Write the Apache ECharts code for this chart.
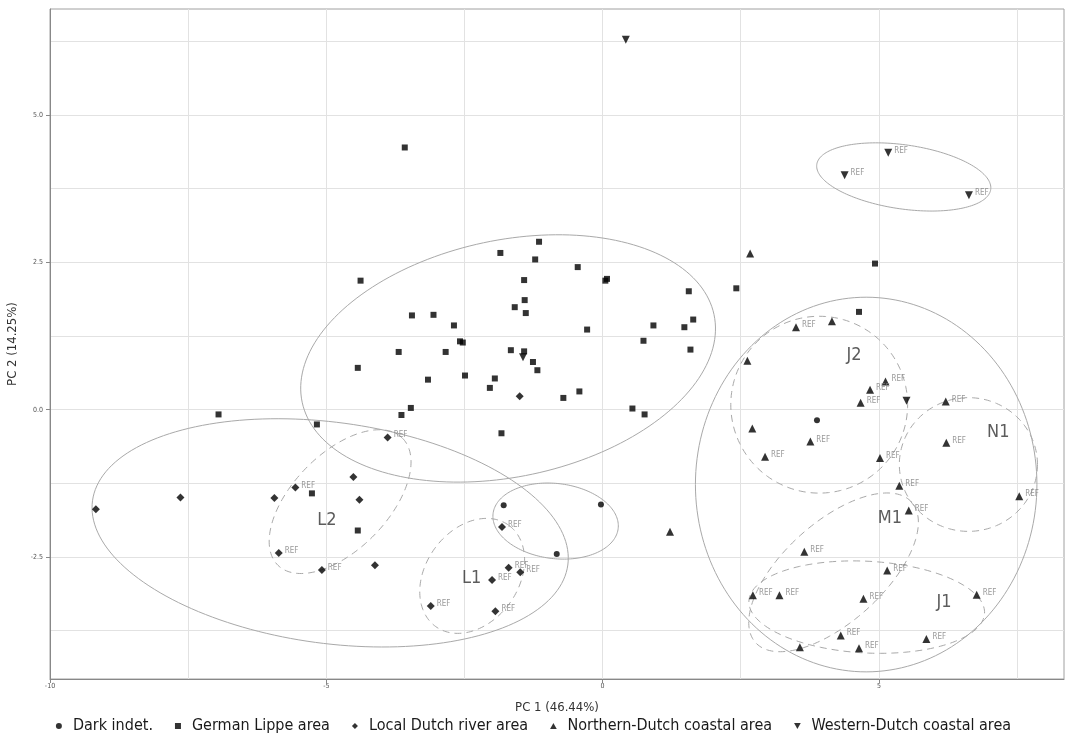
<!DOCTYPE html>
<html><head><meta charset="utf-8">
<script src="https://cdn.jsdelivr.net/npm/echarts@6/dist/echarts.min.js"></script>
<style>html,body{margin:0;padding:0;background:#fff}#c{width:1067px;height:742px}</style>
</head><body><div id="c"></div>
<script>
const FONT = "'Liberation Sans Narrow','DejaVu Sans Condensed','Roboto Condensed',sans-serif";

// axis ticks / grid
const xTickLabels = [-10, -5, 0, 5];
const xGridValues = [-10, -7.5, -5, -2.5, 0, 2.5, 5, 7.5];
const yTickLabels = [-2.5, 0, 2.5, 5];
const yGridValues = [-3.75, -2.5, -1.25, 0, 1.25, 2.5, 3.75, 5, 6.25];
const xRange = [-10, 8.35];
const yRange = [-4.57, 6.8];

const seriesNames = ['Dark indet.', 'German Lippe area', 'Local Dutch river area',
  'Northern-Dutch coastal area', 'Western-Dutch coastal area'];

// [PC1, PC2, isReference]
const darkIndet = [[-1.79,-1.62,0],[-0.03,-1.61,0],[-0.83,-2.45,0],[3.88,-0.18,0]];
const germanLippe = [[-6.95,-0.08,0],[-5.17,-0.25,0],[-5.26,-1.42,0],[-4.43,-2.05,0],[-4.38,2.19,0],
  [-4.43,0.71,0],[-3.58,4.45,0],[-3.45,1.60,0],[-3.06,1.61,0],[-2.69,1.43,0],[-2.58,1.16,0],
  [-2.53,1.14,0],[-3.69,0.98,0],[-2.84,0.98,0],[-3.16,0.51,0],[-2.49,0.58,0],[-1.95,0.53,0],
  [-2.04,0.37,0],[-3.47,0.03,0],[-3.64,-0.09,0],[-1.83,-0.40,0],[-1.85,2.66,0],[-1.15,2.85,0],
  [-1.22,2.55,0],[-0.45,2.42,0],[0.08,2.22,0],[0.05,2.19,0],[-1.42,2.20,0],[1.56,2.01,0],
  [-1.41,1.86,0],[-1.59,1.74,0],[-1.39,1.64,0],[1.64,1.53,0],[0.92,1.43,0],[1.48,1.40,0],
  [-0.28,1.36,0],[0.74,1.17,0],[1.59,1.02,0],[-1.66,1.01,0],[-1.42,0.99,0],[-1.26,0.81,0],
  [-1.18,0.67,0],[-0.71,0.20,0],[-0.42,0.31,0],[0.54,0.02,0],[0.76,-0.08,0],[4.93,2.48,0],
  [2.42,2.06,0],[4.64,1.66,0]];
const localDutch = [[-9.17,-1.69,0],[-7.64,-1.49,0],[-5.94,-1.50,0],[-5.56,-1.32,1],[-4.51,-1.14,0],
  [-4.40,-1.53,0],[-5.86,-2.43,1],[-5.08,-2.72,1],[-4.12,-2.64,0],[-3.89,-0.47,1],[-1.50,0.23,0],
  [-1.82,-1.99,1],[-1.70,-2.68,1],[-1.49,-2.76,1],[-2.00,-2.89,1],[-3.11,-3.33,1],[-1.94,-3.42,1]];
const northernDutch = [[2.67,2.65,0],[3.50,1.40,1],[4.15,1.50,0],[2.62,0.83,0],[5.12,0.48,1],
  [4.84,0.34,1],[4.67,0.12,1],[6.21,0.14,1],[2.71,-0.32,0],[3.76,-0.54,1],[2.94,-0.80,1],
  [6.22,-0.56,1],[5.02,-0.82,1],[5.37,-1.29,1],[7.54,-1.47,1],[5.54,-1.71,1],[3.65,-2.41,1],
  [5.15,-2.73,1],[2.72,-3.15,1],[3.20,-3.15,1],[4.72,-3.21,1],[6.77,-3.14,1],[4.31,-3.83,1],
  [5.86,-3.89,1],[3.57,-4.03,0],[4.64,-4.05,1],[1.22,-2.07,0]];
const westernDutch = [[0.42,6.28,0],[5.17,4.36,1],[4.38,3.98,1],[6.63,3.64,1],[-1.44,0.89,0],[5.50,0.15,0]];

// confidence ellipses: [centerX, centerY, semiMajor, semiMinor, angleDeg, isSubgroup]
const ellipses = [
  [-1.71, 0.87, 3.81, 2.14, 12.0, 0],
  [-4.93, -2.09, 4.34, 2.00, -7.7, 0],
  [-0.85, -1.89, 1.14, 0.68, -6.8, 0],
  [5.45, 3.95, 1.59, 0.58, -8.2, 0],
  [4.77, -1.27, 3.09, 3.39, 0, 0],
  [-4.75, -1.56, 1.61, 0.865, 45.7, 1],
  [-2.36, -2.82, 1.13, 0.84, 54.3, 1],
  [3.92, 0.085, 1.60, 1.60, 0, 1],
  [6.62, -0.93, 1.25, 1.21, 0, 1],
  [4.18, -2.76, 1.90, 0.90, 42, 1],
  [4.78, -3.35, 2.135, 0.83, -3, 1]
];
const groupLabels = [
  {name: 'L2', value: [-4.99, -1.88]},
  {name: 'L1', value: [-2.37, -2.86]},
  {name: 'J2', value: [4.55, 0.92]},
  {name: 'N1', value: [7.16, -0.39]},
  {name: 'M1', value: [5.20, -1.84]},
  {name: 'J1', value: [6.18, -3.27]}
];

const SQUARE = 'path://M0,0L10,0L10,10L0,10Z';
const DIAMOND = 'path://M5,0L10,5L5,10L0,5Z';
const UP_TRI = 'path://M5,0L10,9L0,9Z';
const DOWN_TRI = 'path://M0,0L10,0L5,9Z';
const symbols = ['circle', SQUARE, DIAMOND, UP_TRI, DOWN_TRI];
const sizes = [6, 6, 8, 8, 8];
const pointSets = [darkIndet, germanLippe, localDutch, northernDutch, westernDutch];

const refLabel = {
  show: true, position: 'right', distance: 2, offset: [0, -2],
  formatter: p => (p.value[2] ? 'REF' : ''),
  fontSize: 8, color: '#808080', fontFamily: FONT
};

const chart = echarts.init(document.getElementById('c'), null, {renderer: 'canvas'});

const series = [{
  type: 'custom', name: 'ellipses', z: 1, silent: true,
  xAxisIndex: 0, yAxisIndex: 0,
  data: ellipses,
  encode: {x: 0, y: 1},
  renderItem: function (params, api) {
    const c = api.coord([api.value(0), api.value(1)]);
    const u = api.size([1, 1])[0];
    const a = api.value(2) * u, b = api.value(3) * u;
    const t = api.value(4) * Math.PI / 180;
    const pts = [];
    for (let i = 0; i <= 180; i++) {
      const s = i / 180 * 2 * Math.PI;
      const ex = a * Math.cos(s), ey = b * Math.sin(s);
      pts.push([c[0] + ex * Math.cos(t) - ey * Math.sin(t),
                c[1] - (ex * Math.sin(t) + ey * Math.cos(t))]);
    }
    return {
      type: 'polyline', shape: {points: pts},
      style: {stroke: '#a9a9a9', fill: null, lineWidth: 1,
              lineDash: api.value(5) ? [7, 5] : null}
    };
  }
}];
seriesNames.forEach((n, i) => {
  series.push({
    type: 'scatter', name: n, z: 3,
    symbol: symbols[i], symbolSize: sizes[i],
    itemStyle: {color: '#000'},
    data: pointSets[i],
    label: refLabel
  });
});
series.push({
  type: 'scatter', name: 'groups', z: 4, symbolSize: 1,
  itemStyle: {color: 'rgba(0,0,0,0)'},
  data: groupLabels,
  label: {show: true, position: 'inside', formatter: '{b}', fontSize: 18,
          color: '#333', fontFamily: FONT}
});

const axisText = {fontSize: 7, color: '#555', fontFamily: FONT};

chart.setOption({
  animation: false,
  backgroundColor: '#fff',
  grid: {left: 50, right: 3, top: 9, bottom: 63, show: true, borderColor: '#a0a0a0', borderWidth: 1,
         containLabel: false, outerBoundsMode: 'none'},
  xAxis: [{
    type: 'value', min: xRange[0], max: xRange[1],
    name: 'PC 1 (46.44%)', nameLocation: 'middle', nameGap: 22,
    nameTextStyle: {fontSize: 13, color: '#333', fontFamily: FONT},
    axisLine: {show: true, onZero: false, lineStyle: {color: '#888'}},
    axisTick: {show: true, customValues: xTickLabels, length: 4, lineStyle: {color: '#888'}},
    axisLabel: Object.assign({customValues: xTickLabels, margin: 4}, axisText),
    splitLine: {show: false}
  }, {
    type: 'value', min: xRange[0], max: xRange[1], position: 'bottom',
    axisLine: {show: false, onZero: false}, axisLabel: {show: false},
    axisTick: {show: false, customValues: xGridValues},
    splitLine: {show: true, lineStyle: {color: '#e2e2e2', width: 1}}
  }],
  yAxis: [{
    type: 'value', min: yRange[0], max: yRange[1],
    name: 'PC 2 (14.25%)', nameLocation: 'middle', nameGap: 31,
    nameTextStyle: {fontSize: 13, color: '#333', fontFamily: FONT},
    axisLine: {show: true, onZero: false, lineStyle: {color: '#888'}},
    axisTick: {show: true, customValues: yTickLabels, length: 4, lineStyle: {color: '#888'}},
    axisLabel: Object.assign({customValues: yTickLabels, margin: 7,
      formatter: v => Number(v).toFixed(1)}, axisText),
    splitLine: {show: false}
  }, {
    type: 'value', min: yRange[0], max: yRange[1], position: 'left',
    axisLine: {show: false, onZero: false}, axisLabel: {show: false},
    axisTick: {show: false, customValues: yGridValues},
    splitLine: {show: true, lineStyle: {color: '#e2e2e2', width: 1}}
  }],
  legend: {
    bottom: 3, left: 'center', itemGap: 22, itemWidth: 18, itemHeight: 6,
    textStyle: {fontSize: 16, color: '#1a1a1a', fontFamily: FONT},
    data: seriesNames.map((n, i) => ({name: n, icon: symbols[i]}))
  },
  series: series
});
</script></body></html>
